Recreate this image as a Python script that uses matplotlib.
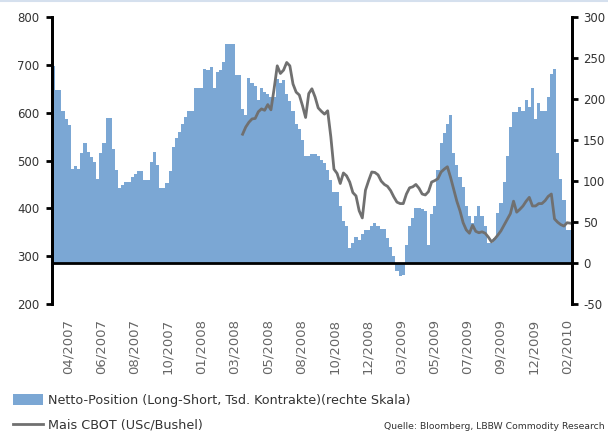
import numpy as np
import matplotlib
matplotlib.use("Agg")
import matplotlib.pyplot as plt
from matplotlib.patches import Patch
from matplotlib.lines import Line2D

plt.rcParams["axes.unicode_minus"] = False

# Netto-Position (Tsd. Kontrakte), rechte Skala, Wochenwerte
netto = [
    240, 211, 211, 186, 176, 168, 115, 118, 115, 134,
    146, 135, 129, 123, 103, 134, 146, 177, 177, 139,
    114, 91, 95, 99, 99, 105, 109, 112, 112, 101,
    101, 123, 135, 119, 91, 91, 97, 112, 142, 152,
    160, 170, 178, 186, 186, 213, 213, 213, 237, 235,
    239, 213, 233, 235, 245, 267, 267, 267, 229, 229,
    188, 180, 226, 220, 216, 199, 213, 208, 206, 202,
    202, 225, 220, 223, 206, 198, 185, 170, 164, 150,
    131, 131, 133, 133, 130, 126, 122, 113, 101, 87,
    87, 69, 51, 45, 18, 25, 32, 28, 36, 40,
    40, 45, 49, 45, 41, 41, 30, 20, 8, -10,
    -16, -14, 22, 45, 55, 67, 67, 66, 64, 22,
    60, 69, 113, 146, 158, 170, 180, 134, 120, 105,
    93, 69, 57, 49, 57, 69, 57, 45, 24, 24,
    30, 61, 73, 99, 130, 166, 184, 184, 190, 186,
    199, 190, 213, 176, 195, 186, 186, 203, 231, 237,
    134, 103, 77, 40, 40,
]

# Mais CBOT (USc/Bushel), linke Skala, ab Woche 60 (03/2008)
mais_start = 60
mais = [
    555, 570, 580, 587, 588, 602, 608, 605, 617, 606,
    650, 698, 682, 689, 705, 698, 660, 643, 637, 615,
    590, 640, 650, 633, 610, 603, 597, 604, 550, 482,
    473, 452, 474, 468, 455, 433, 426, 395, 380, 438,
    458, 476, 475, 470, 457, 450, 446, 437, 424, 413,
    410, 410, 430, 443, 445, 450, 442, 430, 428, 435,
    455, 458, 462, 476, 482, 487, 465, 440, 415, 395,
    370, 355, 348, 365, 352, 349, 351, 348, 340, 330,
    336, 344, 353, 365, 377, 389, 415, 392, 398, 405,
    415, 423, 405, 405, 410, 410, 416, 425, 430, 378,
    371, 366, 363, 370, 369,
]

tick_labels = ["04/2007", "06/2007", "08/2007", "10/2007", "01/2008", "03/2008",
               "05/2008", "08/2008", "10/2008", "12/2008", "03/2009", "05/2009",
               "07/2009", "09/2009", "12/2009", "02/2010"]

BLAU = "#7ba7d4"
GRAU = "#707070"

n = len(netto)
x = np.arange(n)
x_mais = np.arange(mais_start, mais_start + len(mais))

fig = plt.figure(figsize=(6.08, 4.37), dpi=100)
ax = fig.add_axes([0.0855, 0.3043, 0.855, 0.6567])
ax2 = ax.twinx()

# Flaeche (rechte Skala)
ax2.stairs(netto, np.arange(n + 1) - 0.5, baseline=0, fill=True, color=BLAU, lw=0)
ax2.axhline(0, color="black", lw=2)
ax2.set_ylim(-50, 300)
ax2.set_yticks(range(-50, 301, 50))

# Linie (linke Skala)
ax.plot(x_mais, mais, color=GRAU, lw=2)
ax.set_ylim(200, 800)
ax.set_yticks(range(200, 801, 100))
ax.set_xlim(-0.5, n - 0.5)
ax.set_zorder(ax2.get_zorder() + 1)
ax.patch.set_visible(False)

ax.set_xticks(np.linspace(4.6, 163.0, len(tick_labels)))
ax.set_xticklabels(tick_labels, rotation=90, fontsize=9.5, color="#666666")
ax.tick_params(axis="x", length=0, pad=11)
ax.tick_params(axis="y", length=4, width=2, pad=5, labelsize=8.5, labelcolor="#333333")
ax2.tick_params(axis="y", length=4, width=2, pad=4, labelsize=8.5, labelcolor="#333333")

for a in (ax, ax2):
    a.spines["top"].set_visible(False)
    a.spines["bottom"].set_visible(False)
    a.spines["left"].set_linewidth(2)
    a.spines["right"].set_linewidth(2)

handles = [Patch(facecolor=BLAU, edgecolor="none"), Line2D([], [], color=GRAU, lw=2)]
labels = ["Netto-Position (Long-Short, Tsd. Kontrakte)(rechte Skala)", "Mais CBOT (USc/Bushel)"]
fig.legend(handles, labels, loc="upper left", bbox_to_anchor=(0.022, 0.098),
           frameon=False, fontsize=9.2, handlelength=2.3, handleheight=0.9,
           handletextpad=0.4, labelspacing=0.9, borderpad=0, borderaxespad=0,
           labelcolor="#333333")

fig.text(0.995, 0.023, "Quelle: Bloomberg, LBBW Commodity Research", ha="right", va="center",
         fontsize=6.7, color="#333333")

fig.add_artist(Line2D([0, 1], [0.998, 0.998], color="#d5e0ee", lw=1.5))

fig.savefig("out.png", dpi=100)
